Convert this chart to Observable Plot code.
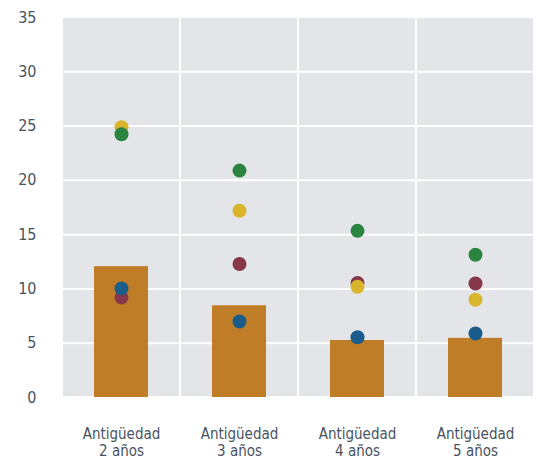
<!DOCTYPE html>
<html><head><meta charset="utf-8">
<script src="https://cdn.jsdelivr.net/npm/d3@7"></script>
<script src="https://cdn.jsdelivr.net/npm/@observablehq/plot@0.6"></script>
<style>body{margin:0;background:#fff}</style>
</head><body><div id="chart"></div>
<script>
const categories = ["Antigüedad\n2 años", "Antigüedad\n3 años", "Antigüedad\n4 años", "Antigüedad\n5 años"];
const barValues = [12.05, 8.45, 5.25, 5.45];
const seriesMaroon = [9.2, 12.3, 10.55, 10.5];
const seriesYellow = [24.9, 17.2, 10.2, 9.0];
const seriesGreen = [24.25, 20.9, 15.35, 13.15];
const seriesBlue = [10.05, 7.0, 5.55, 5.9];
const yTicks = [0, 5, 10, 15, 20, 25, 30, 35];

const rows = categories.map((c, i) => ({cat: c, bar: barValues[i], maroon: seriesMaroon[i], yellow: seriesYellow[i], green: seriesGreen[i], blue: seriesBlue[i]}));

const dot = (key, color) => Plot.dot(rows, {x: "cat", y: key, r: 7, fill: color});

const chart = Plot.plot({
  width: 539, height: 462,
  marginLeft: 60, marginRight: 4, marginTop: 17, marginBottom: 65,
  style: {fontFamily: "'DejaVu Sans Condensed', sans-serif", fontSize: "16px", color: "#48535f", background: "#fff"},
  x: {domain: categories, padding: 0},
  y: {domain: [0, 35]},
  marks: [
    Plot.cell(categories, {x: d => d, fill: "#e4e5e9", stroke: "white", strokeWidth: 2}),
    Plot.gridY(yTicks.slice(1, -1), {stroke: "white", strokeOpacity: 1, strokeWidth: 2}),
    Plot.barY(rows, {x: "cat", y: "bar", fill: "#c07d28", insetLeft: 32, insetRight: 32}),
    dot("maroon", "#86374a"),
    dot("yellow", "#d8b52c"),
    dot("green", "#2a8540"),
    dot("blue", "#1a5d8a"),
    Plot.axisY({ticks: yTicks, tickSize: 0, tickPadding: 24, fontSize: 16, label: null}),
    Plot.axisX({tickSize: 0, tickPadding: 29, fontSize: 15, lineHeight: 1.15, label: null})
  ]
});
document.getElementById("chart").appendChild(chart);
</script>
</body></html>
